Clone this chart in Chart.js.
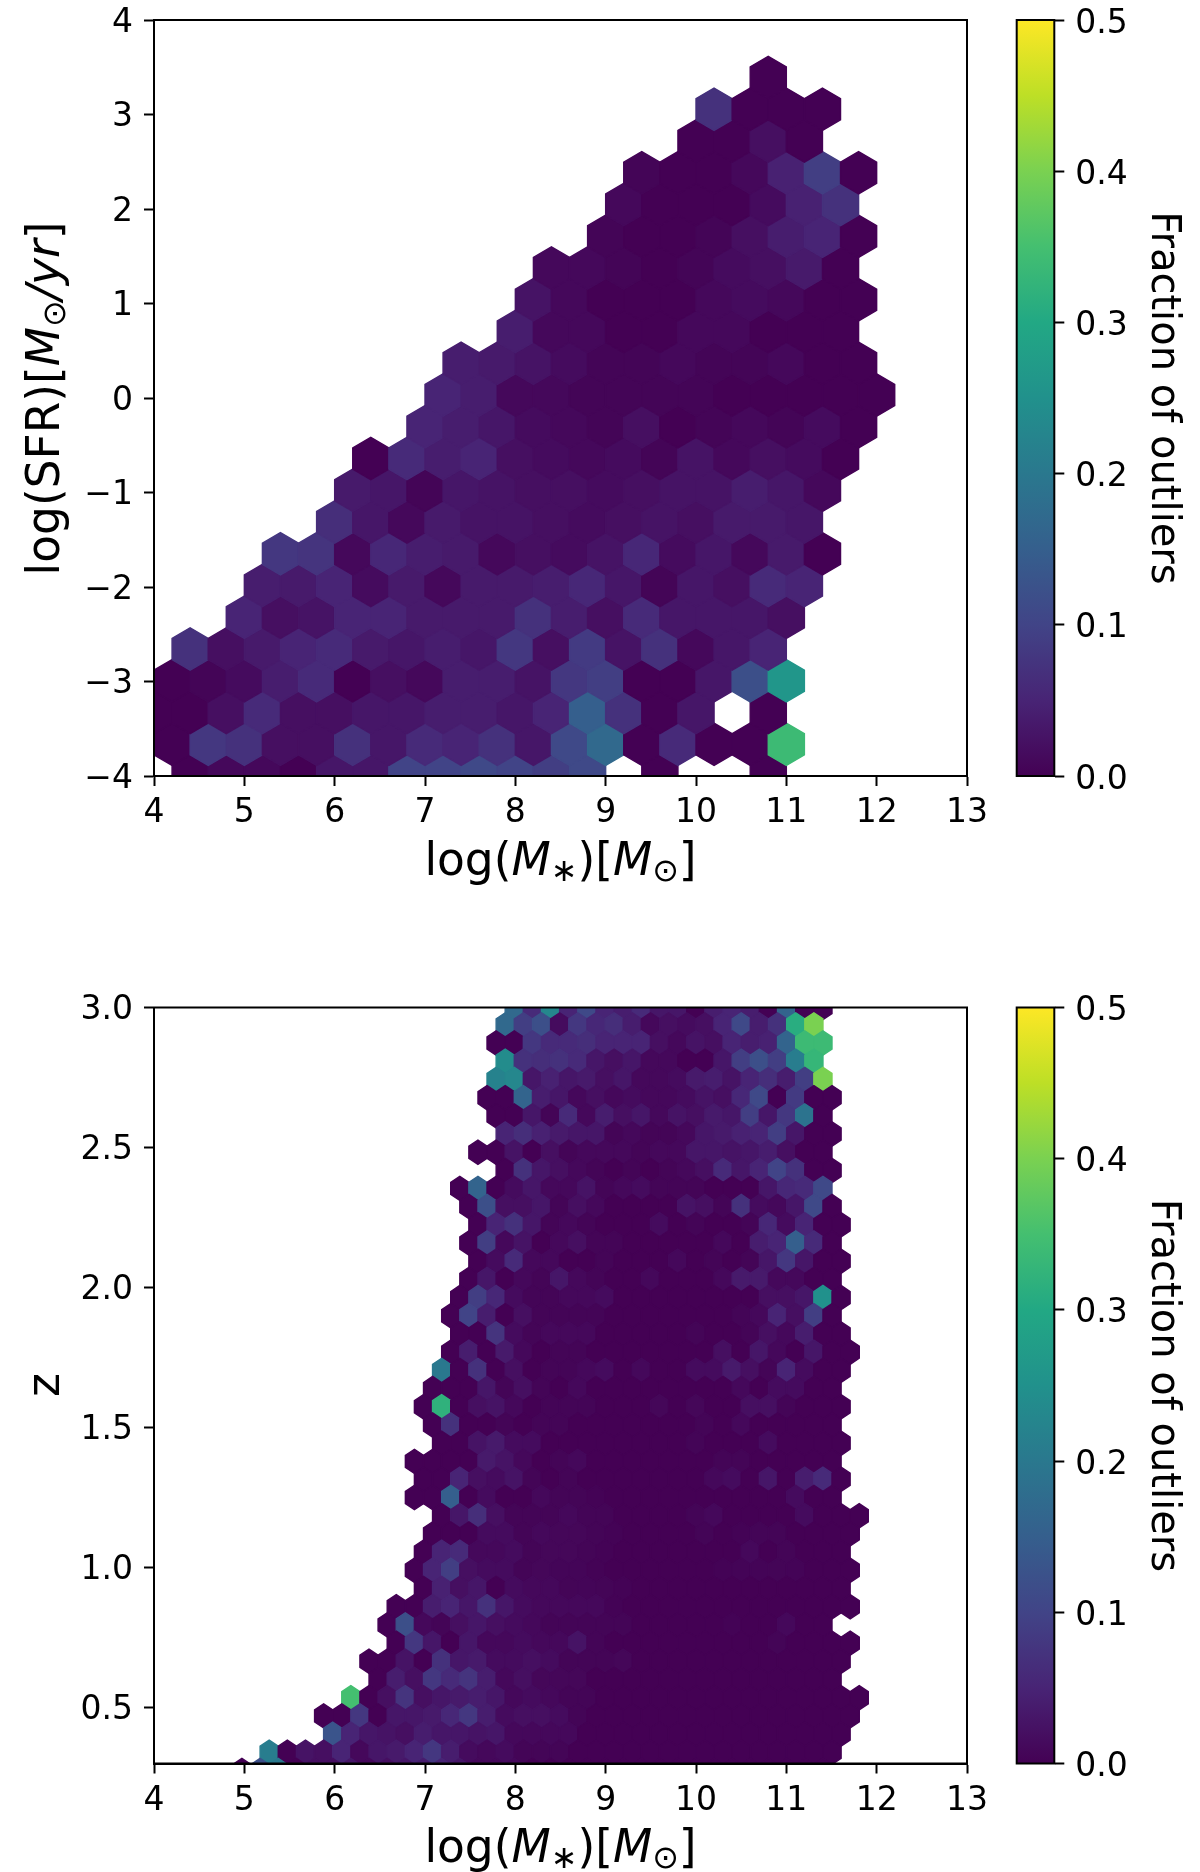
<!DOCTYPE html>
<html>
<head>
<meta charset="utf-8">
<script src="https://cdn.jsdelivr.net/npm/chart.js@4/dist/chart.umd.min.js"></script>
<style>
  body { margin: 0; background: #fff; width: 1200px; height: 1872px; position: relative; overflow: hidden; }
  canvas { position: absolute; }
</style>
</head>
<body>
<canvas id="hexTop" style="left:0;top:0"></canvas>
<canvas id="barTop" style="left:1000px;top:0"></canvas>
<canvas id="hexBot" style="left:0;top:900px"></canvas>
<canvas id="barBot" style="left:1000px;top:900px"></canvas>
<script>
// upper panel: hex rows from the bottom up, centre y, first centre x, fraction per hex (null = empty bin)
var topRowY = [-4, -3.664, -3.328, -2.992, -2.656, -2.32, -1.984, -1.648, -1.312, -0.976, -0.64, -0.304, 0.032, 0.368, 0.704, 1.04, 1.376, 1.712, 2.048, 2.384, 2.72, 3.056, 3.392];
var topFirstX = [4.4, 4.2, 4.0, 4.2, 4.4, 5.0, 5.2, 5.4, 6.0, 6.2, 6.4, 7.0, 7.2, 7.4, 8.0, 8.2, 8.4, 9.0, 9.2, 9.4, 10.0, 10.2, 10.8];
var topFrac = [
  [0,.01,.01,0,.03,.03,.10,.10,.11,.10,.09,.11,null,0,null,null,0],
  [0,.08,.07,.02,.02,.07,.03,.06,.05,.07,.03,.11,.17,0,.06,0,0,.34],
  [0,0,.02,.06,.02,.02,.03,.03,.04,.04,.03,.05,.15,.07,0,.03,null,0],
  [0,.005,.015,.04,.06,0,.02,.01,.04,.04,.025,.08,.09,0,0,.03,.12,.26],
  [.07,.02,.035,.05,.06,.035,.03,.04,.03,.08,.02,.085,.025,.07,.01,.03,.05],
  [.05,.02,.025,.05,.05,.035,.035,.035,.07,.04,.02,.06,.03,.03,.03,.02],
  [.04,.035,.05,.015,.035,.01,.035,.035,.04,.055,.03,.005,.03,.02,.06,.05],
  [.08,.075,.01,.055,.04,.035,.01,.02,.015,.025,.055,.015,.03,.01,.035,0],
  [.065,.03,.01,.035,.025,.025,.02,.015,.02,.025,.02,.035,.035,.03],
  [.035,.03,.005,.03,.025,.02,.02,.015,.02,.025,.025,.04,.03,.01],
  [0,.06,.04,.05,.02,.015,.01,.015,.005,.025,.01,.02,.015,0],
  [.05,.04,.03,.015,.01,.005,.02,0,.005,.01,.005,.015,0],
  [.05,.04,.01,.01,.005,.005,.005,.005,0,0,0,0,0],
  [.04,.035,.025,.015,.005,.005,.01,.005,.005,.01,0,0],
  [.04,.01,.01,0,0,.01,.01,0,0,0],
  [.025,.01,0,0,0,.01,.015,.01,0,0],
  [.01,.01,.005,0,.005,.015,.02,.035,0],
  [.005,0,0,.005,.02,.04,.05,0],
  [.01,0,0,0,.015,.045,.07],
  [.005,0,0,.01,.045,.09,0],
  [0,0,.02,0],
  [.07,0,0,0],
  [0]
];

// lower panel: hex rows from the top down
var botRowY = [3.0, 2.938, 2.873, 2.808, 2.743, 2.678, 2.613, 2.548, 2.483, 2.418, 2.354, 2.289, 2.224, 2.159, 2.094, 2.029, 1.964, 1.899, 1.834, 1.769, 1.704, 1.639, 1.574, 1.509, 1.444, 1.379, 1.315, 1.25, 1.185, 1.12, 1.055, 0.99, 0.925, 0.86, 0.795, 0.73, 0.665, 0.6, 0.535, 0.47, 0.405, 0.34, 0.275];
var botFirstX = [7.988, 7.888, 7.787, 7.888, 7.787, 7.687, 7.787, 7.888, 7.586, 7.888, 7.385, 7.486, 7.586, 7.486, 7.586, 7.486, 7.385, 7.285, 7.385, 7.285, 7.184, 7.084, 6.983, 7.084, 7.184, 6.883, 6.983, 6.883, 7.184, 7.084, 6.983, 6.883, 6.983, 6.682, 6.581, 6.682, 6.38, 6.481, 6.179, 5.878, 5.978, 5.275, 4.973];
var botFrac = [
  [.17,.06,.23,.05,.11,.05,.04,.06,.03,.03,0,.04,.05,.04,0,.16,0,0],
  [.17,.09,.12,.015,.08,.055,.065,.04,.01,.02,.015,.02,.05,.11,.04,.07,.31,.40],
  [0,0,.08,.06,.06,.065,.05,.05,.05,.02,.01,.025,.02,.05,.04,.045,.16,.34,.34],
  [.24,.07,.065,.07,.06,.03,.02,.03,.01,.01,0,0,.03,.09,.12,.09,.21,.33],
  [.22,.23,.03,.045,.03,.035,.02,.03,.01,.01,.015,.035,.04,.025,.05,.065,.04,.09,.40],
  [0,0,.16,.04,.03,.01,.02,.01,.015,.01,.01,.015,.025,.02,.055,.11,0,.085,0,0],
  [0,0,.03,.005,.06,.01,.04,.02,.03,.01,.025,.02,.035,.03,.09,.03,.08,.19,0],
  [.05,.065,.045,.035,.03,.03,.005,.01,.005,.005,.01,.03,.035,.045,.05,.09,.03,0,0],
  [0,0,.025,0,.02,.005,.01,.01,.01,.005,.01,.01,.03,.03,.025,.03,.04,.02,0,0],
  [0,.07,.03,.02,.01,.005,0,.005,0,.005,.01,.02,.06,.03,.05,.10,.07,0,0],
  [0,.16,0,.015,.03,.01,.01,.025,.005,.01,.015,.005,.005,.005,0,0,0,.03,.055,.06,.11],
  [0,.12,.02,.02,.03,.005,.02,.01,0,0,0,0,.025,.02,.005,.07,.015,.01,.03,.11,0],
  [0,.05,.07,.03,.005,.01,.005,0,0,0,.015,0,.005,0,0,.005,.055,.015,.05,0,0],
  [0,.09,.01,.025,0,.01,.02,.005,.005,0,0,0,0,0,.01,0,.04,.05,.15,.06,0],
  [0,.015,.06,.01,.01,0,0,.005,0,0,0,.01,0,.005,0,.005,.03,.08,.03,0,0],
  [0,.03,0,.01,.005,.03,.01,.005,0,0,.01,0,0,0,.01,.035,.035,.01,.01,0,0],
  [0,.09,.055,.015,.005,.005,.01,.01,.015,0,0,0,0,0,0,0,0,.02,.02,.03,.25,0],
  [0,.10,.04,0,.02,.005,.005,.005,.005,0,0,0,0,0,0,0,.005,.01,.05,.02,.09,0],
  [0,0,.075,.015,.005,.01,.01,.01,0,0,0,0,0,.005,0,0,.005,.02,.01,.04,0,0],
  [0,.04,0,.035,.01,0,.005,.005,0,0,0,0,0,0,0,.02,0,.03,.01,0,.03,0,0],
  [.2,0,.07,0,.02,0,.005,.005,.01,.015,0,.01,0,0,.015,.015,.035,.02,.005,.05,.015,0,0],
  [0,0,0,.03,.005,.02,.005,0,.01,0,0,0,0,0,0,0,0,.01,0,.015,.015,0,0],
  [0,.32,0,.02,.025,.01,0,.005,.005,.005,0,0,0,.008,0,.008,0,0,.02,.02,.005,0,0,0],
  [0,.07,0,0,.005,0,.005,.005,0,0,0,0,0,0,0,.005,0,.01,0,0,0,0,0],
  [0,0,.025,.035,.015,.015,0,0,0,0,0,0,0,0,.005,0,0,0,.015,0,0,0,0],
  [0,0,0,0,.035,.025,.01,0,.005,.01,0,0,0,0,0,0,0,.005,.005,0,0,0,0,0],
  [0,0,.05,.02,.015,.025,.005,0,.005,0,0,0,0,0,0,0,.01,.015,0,.03,0,.04,.06,0],
  [0,0,.15,0,.015,0,0,.01,.005,.005,.003,0,0,0,0,0,0,0,0,0,0,.015,0,0],
  [0,.03,.065,.02,.005,.005,.005,.01,.005,.005,0,0,0,0,.005,.01,0,0,0,0,.015,0,0,0],
  [0,0,0,.015,.015,.005,.01,.008,.008,.005,.003,0,0,0,0,.005,0,.003,.005,.005,0,0,0,0],
  [0,.05,.06,.01,.01,.015,.005,.008,.008,.005,.003,0,0,0,0,0,0,0,.01,0,.005,0,0,0],
  [0,.05,.09,.02,.015,.015,.005,.008,.006,.006,.003,0,0,0,0,0,0,.003,.004,.004,.005,.004,0,0,0],
  [0,.045,.02,.03,0,.015,.01,.01,.005,.006,.005,.003,0,0,0,0,0,0,0,0,0,0,0,0],
  [0,0,.04,.05,.03,.07,.03,.015,.01,.01,.01,.01,.003,0,0,0,0,0,0,0,0,0,0,0,0,0],
  [0,.12,.01,.005,.02,.03,.02,.015,.01,.005,.005,.005,.005,.005,0,0,0,0,0,.003,0,0,.01,0,0],
  [0,.08,.03,0,.03,.01,.01,.015,.01,.01,.025,.005,0,0,0,0,0,0,0,0,0,.005,0,0,0,0],
  [0,0,.025,0,.07,.03,.035,.015,.015,.02,.015,.005,.005,.005,.008,0,0,0,0,0,0,0,0,0,0,0,0],
  [0,.04,.02,.08,.06,.075,.04,.01,.02,.008,.008,.008,0,0,0,0,0,0,0,0,0,0,0,0,0,0],
  [.35,0,.02,.075,.02,.03,.035,.04,.03,.01,.015,.01,.005,.005,0,0,0,0,0,0,0,0,0,0,0,0,0,0,0],
  [0,0,.08,0,.03,.03,.035,.055,.08,.04,.015,.02,.02,.015,.005,0,0,0,0,0,0,0,0,0,0,0,0,0,0,0],
  [.13,.05,.03,.025,.02,.04,.03,.03,.025,.03,.01,.01,.01,.01,0,0,0,0,0,0,0,0,0,0,0,0,0,0,0],
  [.21,0,.025,.02,.05,.01,.03,.035,.05,.08,.04,.015,.01,.015,.005,.005,.005,0,0,0,0,0,0,0,0,0,0,0,0,0,0,0],
  [0,.12,.2,0,.02,.02,.03,.01,.02,.03,.04,.05,.03,.01,.01,.01,0,0,0,0,0,0,0,0,0,0,0,0,0,0,0,0,0]
];

var xTicks = [4, 5, 6, 7, 8, 9, 10, 11, 12, 13];
var yTicksTop = [-4, -3, -2, -1, 0, 1, 2, 3, 4];
var yTicksBot = [0.5, 1.0, 1.5, 2.0, 2.5, 3.0];
var barTicks = [0.0, 0.1, 0.2, 0.3, 0.4, 0.5];
var viridis = ['#440154', '#482475', '#414487', '#355f8d', '#2a788e', '#21918c', '#22a884', '#44bf70', '#7ad151', '#bddf26', '#fde725'];

var FONT = '"DejaVu Sans"';
var BAR_MAX = 0.5;

function fracColor(v) {
  var t = Math.min(v / BAR_MAX, 1) * (viridis.length - 1);
  var i = Math.min(Math.floor(t), viridis.length - 2), f = t - i;
  var a = parseInt(viridis[i].slice(1), 16), b = parseInt(viridis[i + 1].slice(1), 16);
  var mix = function (s) { return Math.round(((a >> s) & 255) * (1 - f) + ((b >> s) & 255) * f); };
  return 'rgb(' + mix(16) + ',' + mix(8) + ',' + mix(0) + ')';
}

function hexPoints(rowY, firstX, frac, step) {
  var pts = [];
  rowY.forEach(function (y, r) {
    frac[r].forEach(function (v, i) {
      if (v !== null) pts.push({ x: firstX[r] + i * step, y: y, v: v });
    });
  });
  return pts;
}

// scatter controller that paints each point as a hexagon cell sized in data units
class HexbinController extends Chart.ScatterController {
  draw() {
    var ctx = this.chart.ctx, ds = this.getDataset(), meta = this.getMeta();
    var rx = Math.abs(meta.xScale.getPixelForValue(ds.hexDx) - meta.xScale.getPixelForValue(0));
    var ry = Math.abs(meta.yScale.getPixelForValue(ds.hexR) - meta.yScale.getPixelForValue(0));
    ctx.save();
    ctx.lineWidth = 1.4;
    meta.data.forEach(function (el, i) {
      var c = fracColor(ds.data[i].v);
      ctx.beginPath();
      ctx.moveTo(el.x, el.y - ry);
      ctx.lineTo(el.x + rx, el.y - ry / 2);
      ctx.lineTo(el.x + rx, el.y + ry / 2);
      ctx.lineTo(el.x, el.y + ry);
      ctx.lineTo(el.x - rx, el.y + ry / 2);
      ctx.lineTo(el.x - rx, el.y - ry / 2);
      ctx.closePath();
      ctx.fillStyle = c;
      ctx.strokeStyle = c;
      ctx.fill();
      ctx.stroke();
    });
    ctx.restore();
  }
}
HexbinController.id = 'hexbin';
HexbinController.defaults = {};
Chart.register(HexbinController);

// box on all four sides, drawn over the marks
var framePlugin = {
  id: 'frame',
  afterDatasetsDraw: function (chart) {
    var a = chart.chartArea, ctx = chart.ctx;
    ctx.save();
    ctx.strokeStyle = '#000';
    ctx.lineWidth = 2;
    ctx.strokeRect(a.left, a.top, a.right - a.left, a.bottom - a.top);
    ctx.restore();
  }
};

// axis labels with italics and subscripts, which the axis title option cannot do
function drawRuns(ctx, runs, size, x, y, rot) {
  var fontOf = function (r) {
    return (r.it ? 'italic ' : '') + (r.sub ? size * 0.7 : size) + 'px ' + FONT;
  };
  var total = 0;
  runs.forEach(function (r) { ctx.font = fontOf(r); total += ctx.measureText(r.t).width; });
  ctx.save();
  ctx.translate(x, y);
  ctx.rotate(rot || 0);
  ctx.fillStyle = '#000';
  ctx.textBaseline = 'alphabetic';
  var pos = -total / 2;
  runs.forEach(function (r) {
    ctx.font = fontOf(r);
    ctx.fillText(r.t, pos, r.sub ? size * 0.13 : 0);
    pos += ctx.measureText(r.t).width;
  });
  ctx.restore();
}

var massLabel = [{ t: 'log(' }, { t: 'M', it: true }, { t: '\u2217', sub: true }, { t: ')[' }, { t: 'M', it: true }, { t: '\u2299', sub: true }, { t: ']' }];
var sfrLabel = [{ t: 'log(SFR)[' }, { t: 'M', it: true }, { t: '\u2299', sub: true }, { t: '/yr', it: true }, { t: ']' }];
var zLabel = [{ t: 'z' }];

function labelPlugin(yRuns, yCentre, yX, xBase) {
  return {
    id: 'mathLabels',
    afterDraw: function (chart) {
      var a = chart.chartArea, ctx = chart.ctx;
      drawRuns(ctx, massLabel, 45.5, (a.left + a.right) / 2, xBase, 0);
      drawRuns(ctx, yRuns, 45.5, yX, yCentre, -Math.PI / 2);
    }
  };
}

function tickFont() { return { family: FONT, size: 33 }; }
function axisGrid() {
  return { display: true, drawOnChartArea: false, drawTicks: true, tickLength: 10, tickWidth: 2, tickColor: '#000' };
}
function noScalePadding(s) {
  s.paddingLeft = s.paddingRight = s.paddingTop = s.paddingBottom = 0;
}

function hexChart(id, w, h, top, bottom, yOpts, points, hexDx, hexR, plugin) {
  var cv = document.getElementById(id);
  return new Chart(cv, {
    type: 'hexbin',
    data: { datasets: [{ data: points, hexDx: hexDx, hexR: hexR }] },
    options: {
      responsive: false, animation: false, devicePixelRatio: 1, events: [],
      layout: { padding: { left: 0, top: top, right: w - 967, bottom: 0 } },
      plugins: { legend: { display: false }, tooltip: { enabled: false } },
      scales: {
        x: {
          type: 'linear', min: 4, max: 13,
          afterBuildTicks: function (s) { s.ticks = xTicks.map(function (v) { return { value: v }; }); },
          afterFit: function (s) { s.height = h - bottom; noScalePadding(s); },
          ticks: { font: tickFont(), color: '#000', padding: 8, maxRotation: 0, callback: function (v) { return String(v); } },
          grid: axisGrid(), border: { display: true, color: '#000', width: 2 }
        },
        y: Object.assign({
          type: 'linear',
          afterFit: function (s) { s.width = 154; noScalePadding(s); },
          grid: axisGrid(), border: { display: true, color: '#000', width: 2 }
        }, yOpts)
      }
    },
    plugins: [framePlugin, plugin]
  });
}

function colorBar(id, h, top, bottom) {
  var cv = document.getElementById(id);
  return new Chart(cv, {
    type: 'bar',
    data: {
      labels: [''],
      datasets: [{
        data: [[barTicks[0], barTicks[barTicks.length - 1]]],
        categoryPercentage: 1, barPercentage: 1, borderWidth: 0,
        backgroundColor: function (c) {
          var a = c.chart.chartArea;
          if (!a) return viridis[0];
          var g = c.chart.ctx.createLinearGradient(0, a.bottom, 0, a.top);
          viridis.forEach(function (col, i) { g.addColorStop(i / (viridis.length - 1), col); });
          return g;
        }
      }]
    },
    options: {
      responsive: false, animation: false, devicePixelRatio: 1, events: [],
      layout: { padding: { left: 16.7, top: top, right: 14, bottom: h - bottom } },
      plugins: { legend: { display: false }, tooltip: { enabled: false } },
      scales: {
        x: { display: false },
        y: {
          position: 'right', min: 0, max: 0.5,
          afterBuildTicks: function (s) { s.ticks = barTicks.map(function (v) { return { value: v }; }); },
          afterFit: function (s) { s.width = 131.7; noScalePadding(s); },
          ticks: { font: tickFont(), color: '#000', padding: 11, labelOffset: 4, callback: function (v) { return v.toFixed(1); } },
          grid: axisGrid(), border: { display: true, color: '#000', width: 2 },
          title: { display: true, text: 'Fraction of outliers', color: '#000', font: { family: FONT, size: 40 }, padding: 0 }
        }
      }
    },
    plugins: [framePlugin]
  });
}

function sizeCanvas(id, w, h) {
  var c = document.getElementById(id);
  c.width = w; c.height = h;
  c.style.width = w + 'px'; c.style.height = h + 'px';
}

sizeCanvas('hexTop', 1000, 900);
sizeCanvas('barTop', 200, 900);
sizeCanvas('hexBot', 1000, 972);
sizeCanvas('barBot', 200, 972);

hexChart('hexTop', 1000, 900, 20, 776, {
  min: -4, max: 4,
  afterBuildTicks: function (s) { s.ticks = yTicksTop.map(function (v) { return { value: v }; }); },
  ticks: { font: tickFont(), color: '#000', padding: 11, labelOffset: 3, callback: function (v) { return String(v).replace('-', '\u2212'); } }
}, hexPoints(topRowY, topFirstX, topFrac, 0.4), 0.2, 0.224, labelPlugin(sfrLabel, 398.5, 59, 875));

colorBar('barTop', 900, 20, 776);

hexChart('hexBot', 1000, 972, 107.5, 863.5, {
  min: 0.3, max: 3.0,
  afterBuildTicks: function (s) { s.ticks = yTicksBot.map(function (v) { return { value: v }; }); },
  ticks: { font: tickFont(), color: '#000', padding: 11, labelOffset: 3, callback: function (v) { return v.toFixed(1); } }
}, hexPoints(botRowY, botFirstX, botFrac, 0.201), 0.1005, 0.0433, labelPlugin(zLabel, 485, 59, 962));

colorBar('barBot', 972, 107.5, 863.5);
</script>
</body>
</html>
